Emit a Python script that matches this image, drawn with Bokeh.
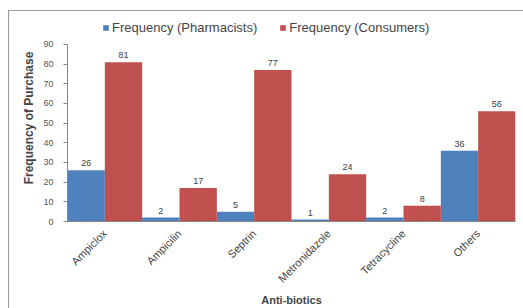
from bokeh.plotting import figure
from bokeh.models import ColumnDataSource, Legend, LegendItem, LabelSet, FactorRange, Range1d
from bokeh.core.properties import value
from bokeh.transform import dodge
from bokeh.embed import file_html
from bokeh.resources import INLINE
import math

categories = ["Ampiclox", "Ampicilin", "Septrin", "Metronidazole", "Tetracycline", "Others"]
pharmacists = [26, 2, 5, 1, 2, 36]
consumers = [81, 17, 77, 24, 8, 56]
y_ticks = [0, 10, 20, 30, 40, 50, 60, 70, 80, 90]

src = ColumnDataSource(dict(cat=categories, ph=pharmacists, co=consumers,
                            ph_t=[str(v) for v in pharmacists],
                            co_t=[str(v) for v in consumers]))

FONT = "Liberation Sans"
BLUE = "#4F81BD"
RED = "#C0504D"

# frame extends above 90 so the legend can sit inside it; the axis line stops at 90
p = figure(width=523, height=308, x_range=FactorRange(factors=categories, range_padding=0),
           y_range=Range1d(0, 105.25), output_backend="svg", toolbar_location=None,
           min_border_left=67, min_border_right=8, min_border_top=14, min_border_bottom=87)
p.outline_line_color = None
p.border_fill_color = None
p.background_fill_color = None
p.xgrid.grid_line_color = None
p.ygrid.grid_line_color = None
p.styles = {"box-shadow": "inset 8px 10px 0 0 #ffffff, inset 9px 11px 0 0 #9a9a9a",
            "background-color": "#ffffff"}

r1 = p.vbar(x=dodge("cat", -0.25, range=p.x_range), top="ph", width=0.5, source=src,
            fill_color=BLUE, line_color=None)
r2 = p.vbar(x=dodge("cat", 0.25, range=p.x_range), top="co", width=0.5, source=src,
            fill_color=RED, line_color=None)

for col, off in (("ph", -0.25), ("co", 0.25)):
    p.add_layout(LabelSet(x=dodge("cat", off, range=p.x_range), y=col, text=col + "_t",
                          source=src, text_align="center", text_baseline="bottom",
                          y_offset=4, text_font=value(FONT), text_font_size="9px",
                          text_color="#404040"))

p.yaxis.ticker = y_ticks
p.yaxis.bounds = (0, 90)
p.yaxis.axis_label = "Frequency of Purchase"
p.yaxis.axis_label_text_font = FONT
p.yaxis.axis_label_text_font_style = "bold"
p.yaxis.axis_label_text_font_size = "12px"
p.yaxis.axis_label_standoff = 4
p.yaxis.major_label_text_font = FONT
p.yaxis.major_label_text_font_size = "9px"
p.yaxis.major_label_text_color = "#555555"
p.yaxis.minor_tick_line_color = None
p.yaxis.major_tick_in = 0
p.yaxis.major_tick_out = 4
p.yaxis.major_label_standoff = 10
p.yaxis.axis_line_color = "#868686"
p.yaxis.major_tick_line_color = "#868686"

p.xaxis.axis_label = "Anti-biotics"
p.xaxis.axis_label_text_font = FONT
p.xaxis.axis_label_text_font_style = "bold"
p.xaxis.axis_label_text_font_size = "11px"
p.xaxis.axis_label_standoff = 2
p.xaxis.major_label_text_font = FONT
p.xaxis.major_label_text_font_size = "11px"
p.xaxis.major_label_standoff = 4
p.xaxis.major_label_orientation = math.pi / 4
p.xaxis.major_tick_line_color = None
p.xaxis.axis_line_color = "#868686"

legend = Legend(items=[LegendItem(label="Frequency (Pharmacists)", renderers=[r1]),
                       LegendItem(label="Frequency (Consumers)", renderers=[r2])],
                orientation="horizontal", location=(35, 186),
                label_text_font=FONT, label_text_font_size="13px",
                glyph_width=7, glyph_height=7, spacing=22, label_standoff=3,
                border_line_color=None, background_fill_alpha=0, padding=0, margin=0)
p.add_layout(legend, "center")

open("out.html", "w").write(file_html(p, INLINE))
